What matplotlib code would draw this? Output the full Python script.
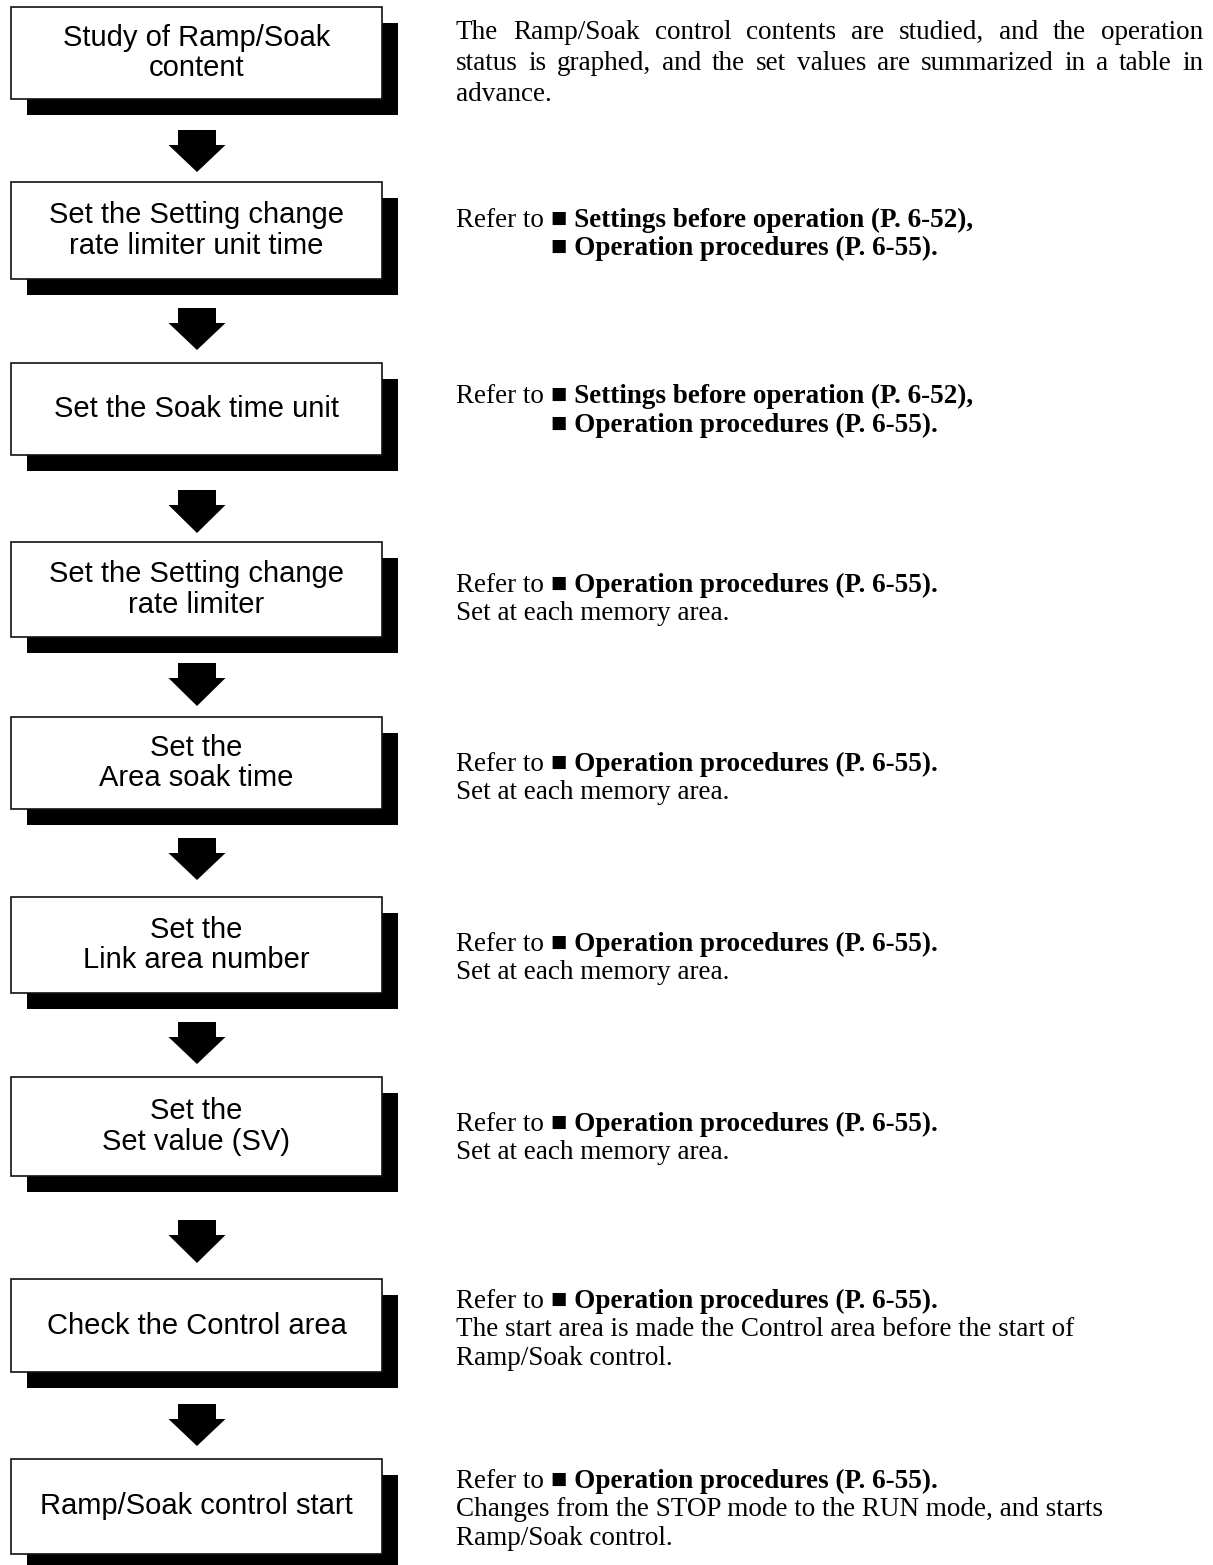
import matplotlib
matplotlib.use('Agg')
import matplotlib.pyplot as plt
from matplotlib.patches import Rectangle, Polygon

# flow steps (left column)
box_labels = [
    'Study of Ramp/Soak\ncontent',
    'Set the Setting change\nrate limiter unit time',
    'Set the Soak time unit',
    'Set the Setting change\nrate limiter',
    'Set the\nArea soak time',
    'Set the\nLink area number',
    'Set the\nSet value (SV)',
    'Check the Control area',
    'Ramp/Soak control start',
]
box_tops = [7, 182, 363, 542, 717, 897, 1077, 1279, 1459]
box_bottoms = [99, 279, 455, 637, 809, 993, 1176, 1372, 1554]

# arrows between steps: stem top / tip
arrow_tops = [130, 308, 490, 663, 838, 1022, 1220, 1404]
arrow_tips = [172, 350, 533, 706, 880, 1064, 1263, 1446]

# notes (right column): lines of (text, bold) segments
REFER = ('Refer to ', False)
SETTINGS = ('■ Settings before operation (P. 6-52),', True)
PROCS = ('■ Operation procedures (P. 6-55).', True)
EACH_AREA = [('Set at each memory area.', False)]

notes = [
    [[('The Ramp/Soak control contents are studied, and the operation', False)],
     [('status is graphed, and the set values are summarized in a table in', False)],
     [('advance.', False)]],
    [[REFER, SETTINGS], [PROCS]],
    [[REFER, SETTINGS], [PROCS]],
    [[REFER, PROCS], EACH_AREA],
    [[REFER, PROCS], EACH_AREA],
    [[REFER, PROCS], EACH_AREA],
    [[REFER, PROCS], EACH_AREA],
    [[REFER, PROCS],
     [('The start area is made the Control area before the start of', False)],
     [('Ramp/Soak control.', False)]],
    [[REFER, PROCS],
     [('Changes from the STOP mode to the RUN mode, and starts', False)],
     [('Ramp/Soak control.', False)]],
]
note_baselines = [
    [39, 70, 101],
    [227, 255],
    [403, 432],
    [592, 620],
    [771, 799],
    [951, 979],
    [1131, 1159],
    [1308, 1336, 1365],
    [1488, 1516, 1545],
]
# lines that continue after "Refer to" sit under the square
indented = {(1, 1), (2, 1)}
justified = {(0, 0), (0, 1)}

BOX_L, BOX_R = 11, 382
SHADOW = 16
NOTE_X, NOTE_R = 456, 1203
BOX_FONT = dict(family=['Liberation Sans', 'DejaVu Sans'], fontsize=21)
NOTE_FONT = dict(family=['Liberation Serif', 'DejaVu Serif'], fontsize=19.5)

fig = plt.figure(figsize=(12.13, 15.65), dpi=100, facecolor='white')
ax = fig.add_axes([0, 0, 1, 1])
ax.set_xlim(0, 1213)
ax.set_ylim(1565, 0)
ax.axis('off')
renderer = fig.canvas.get_renderer()


def text_width(s, bold=False):
    t = ax.text(0, 0, s, fontweight='bold' if bold else 'normal', **NOTE_FONT)
    w = t.get_window_extent(renderer).width
    t.remove()
    return w


def seg_width(s, bold):
    # keep trailing spaces in the advance
    return text_width(s + '|', bold) - text_width('|', bold)


# boxes with drop shadow
cx = (BOX_L + BOX_R) / 2
for label, top, bottom in zip(box_labels, box_tops, box_bottoms):
    h = bottom - top
    ax.add_patch(Rectangle((BOX_L + SHADOW, top + SHADOW), BOX_R - BOX_L, h,
                           facecolor='black', edgecolor='none', zorder=1))
    ax.add_patch(Rectangle((BOX_L, top), BOX_R - BOX_L, h,
                           facecolor='white', edgecolor='#111111', linewidth=1.2, zorder=2))
    ax.text(cx, (top + bottom) / 2, label, ha='center', va='center',
            linespacing=1.1, zorder=3, **BOX_FONT)

# block arrows
stem_half, head_half, stem_len = 19, 28.5, 15
ax_c = cx + 0.5
for top, tip in zip(arrow_tops, arrow_tips):
    neck = top + stem_len
    pts = [(ax_c - stem_half, top), (ax_c + stem_half, top), (ax_c + stem_half, neck),
           (ax_c + head_half, neck), (ax_c, tip), (ax_c - head_half, neck),
           (ax_c - stem_half, neck)]
    ax.add_patch(Polygon(pts, closed=True, facecolor='black', edgecolor='none', zorder=2))

# notes
indent = seg_width(REFER[0], False)
for i, (para, baselines) in enumerate(zip(notes, note_baselines)):
    for j, (line, y) in enumerate(zip(para, baselines)):
        x = NOTE_X + (indent if (i, j) in indented else 0)
        if (i, j) in justified:
            words = line[0][0].split(' ')
            widths = [text_width(w) for w in words]
            gap = (NOTE_R - NOTE_X - sum(widths)) / (len(words) - 1)
            for w, wd in zip(words, widths):
                ax.text(x, y, w, va='baseline', ha='left', **NOTE_FONT)
                x += wd + gap
            continue
        for s, bold in line:
            ax.text(x, y, s, va='baseline', ha='left',
                    fontweight='bold' if bold else 'normal', **NOTE_FONT)
            x += seg_width(s, bold)

fig.savefig('out.png', dpi=100, facecolor='white')
